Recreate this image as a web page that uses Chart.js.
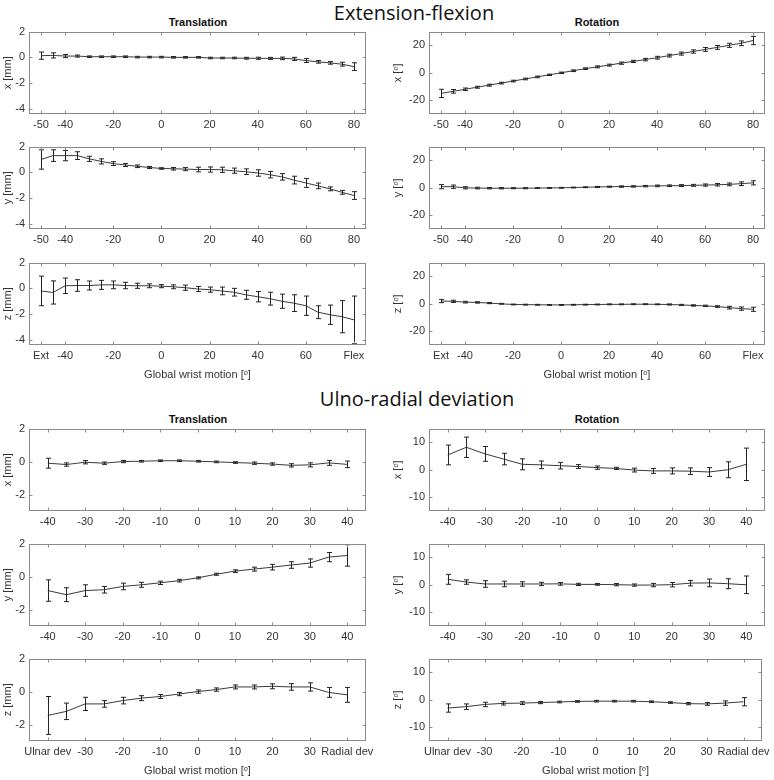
<!DOCTYPE html>
<html>
<head>
<meta charset="utf-8">
<script src="https://cdn.jsdelivr.net/npm/chart.js@4.4.0/dist/chart.umd.min.js"></script>
<style>
  body { margin: 0; background: #fff; width: 774px; height: 780px; position: relative; overflow: hidden; }
  .panel { position: absolute; }
  .main-title { position: absolute; font-family: "Open Sans", sans-serif; font-size: 20px; line-height: 22px; color: #111; white-space: nowrap; transform: translateX(-50%); }
  .sub-title { position: absolute; font-family: "Liberation Sans", Arial, sans-serif; font-weight: bold; font-size: 11px; line-height: 13px; color: #111; white-space: nowrap; transform: translateX(-50%); }
</style>
</head>
<body>
<div class="main-title" style="left:414px; top:2px;">Extension-flexion</div>
<div class="sub-title" style="left:198px; top:16px;">Translation</div>
<div class="sub-title" style="left:597px; top:16px;">Rotation</div>
<div class="main-title" style="left:417px; top:388px;">Ulno-radial deviation</div>
<div class="sub-title" style="left:198px; top:413px;">Translation</div>
<div class="sub-title" style="left:597px; top:413px;">Rotation</div>
<div id="panels"></div>
<script>
// --- Data: extension-flexion ---
const efAngles = [-50,-45,-40,-35,-30,-25,-20,-15,-10,-5,0,5,10,15,20,25,30,35,40,45,50,55,60,65,70,75,80];
const efTransX    = [0.13,0.15,0.1,0.1,0.05,0.05,0.05,0.05,0.02,0.02,0.02,0,0,0,-0.05,-0.05,-0.05,-0.07,-0.07,-0.08,-0.08,-0.12,-0.25,-0.35,-0.43,-0.53,-0.72];
const efTransXErr = [0.28,0.2,0.12,0.08,0.06,0.06,0.06,0.06,0.06,0.06,0.06,0.06,0.06,0.06,0.06,0.06,0.06,0.07,0.08,0.08,0.1,0.12,0.15,0.1,0.1,0.15,0.3];
const efTransY    = [1.0,1.3,1.3,1.3,1.05,0.85,0.68,0.57,0.47,0.38,0.3,0.28,0.25,0.22,0.22,0.2,0.13,0.05,-0.05,-0.18,-0.35,-0.6,-0.82,-1.05,-1.28,-1.55,-1.8];
const efTransYErr = [0.75,0.45,0.4,0.3,0.2,0.2,0.15,0.12,0.1,0.08,0.06,0.1,0.12,0.18,0.2,0.2,0.2,0.22,0.25,0.25,0.25,0.3,0.35,0.22,0.15,0.15,0.3];
const efTransZ    = [-0.2,-0.32,0.2,0.22,0.22,0.27,0.27,0.22,0.2,0.2,0.17,0.12,0.05,-0.05,-0.1,-0.2,-0.3,-0.5,-0.65,-0.8,-1.0,-1.15,-1.35,-1.85,-2.05,-2.2,-2.45];
const efTransZErr = [1.15,0.9,0.6,0.45,0.35,0.35,0.3,0.25,0.2,0.15,0.12,0.15,0.2,0.2,0.2,0.3,0.3,0.35,0.4,0.5,0.55,0.65,0.75,0.5,0.75,1.25,1.85];
const efRotX      = [-15,-13.5,-12,-10.5,-9,-7.5,-6,-4.5,-3,-1.5,0,1.5,3,4.3,5.6,7,8.3,9.6,11,12.5,14,15.5,17,18.5,20,21.5,23.5];
const efRotXErr   = [3,1.3,0.9,0.7,0.7,0.6,0.6,0.6,0.6,0.5,0.5,0.6,0.6,0.7,0.7,0.8,0.8,0.9,1,1,1.1,1.2,1.4,1.4,1.5,1.7,3];
const efRotY      = [0.8,0.8,0,-0.2,-0.3,-0.3,-0.3,-0.3,-0.2,-0.1,0,0.2,0.4,0.6,0.8,0.9,1.0,1.2,1.4,1.5,1.6,1.8,2.0,2.2,2.5,3.0,3.6];
const efRotYErr   = [1.5,1.2,0.8,0.6,0.5,0.5,0.4,0.4,0.3,0.3,0.3,0.3,0.3,0.4,0.4,0.5,0.5,0.5,0.6,0.6,0.7,0.7,0.8,0.9,1.0,1.3,1.5];
const efRotZ      = [2,1.8,1.2,1,0.5,0,-0.5,-0.6,-0.7,-0.8,-0.8,-0.7,-0.6,-0.5,-0.4,-0.4,-0.3,-0.3,-0.4,-0.5,-0.8,-1.2,-1.5,-2,-2.8,-3.5,-4];
const efRotZErr   = [1.2,0.8,0.6,0.5,0.4,0.3,0.3,0.3,0.3,0.3,0.3,0.3,0.3,0.3,0.3,0.3,0.3,0.3,0.3,0.4,0.4,0.5,0.5,0.6,1,1.2,1.5];

// --- Data: ulno-radial deviation ---
const urAngles = [-40,-35,-30,-25,-20,-15,-10,-5,0,5,10,15,20,25,30,35,40];
const urTransX    = [-0.1,-0.18,-0.04,-0.1,0,0.02,0.05,0.05,0.02,-0.02,-0.06,-0.1,-0.15,-0.23,-0.2,-0.08,-0.17];
const urTransXErr = [0.3,0.1,0.1,0.07,0.07,0.05,0.05,0.05,0.05,0.05,0.05,0.07,0.07,0.1,0.12,0.15,0.2];
const urTransY    = [-0.85,-1.1,-0.85,-0.8,-0.6,-0.5,-0.38,-0.25,-0.08,0.14,0.33,0.45,0.57,0.7,0.82,1.18,1.28];
const urTransYErr = [0.65,0.42,0.35,0.2,0.2,0.15,0.1,0.08,0.06,0.06,0.08,0.12,0.17,0.2,0.25,0.28,0.65];
const urTransZ    = [-1.45,-1.2,-0.75,-0.75,-0.55,-0.4,-0.3,-0.15,0,0.12,0.28,0.28,0.32,0.28,0.28,-0.05,-0.2];
const urTransZErr = [1.15,0.5,0.4,0.2,0.2,0.15,0.12,0.1,0.1,0.1,0.12,0.12,0.15,0.2,0.25,0.3,0.45];
const urRotX      = [5.4,8.2,5.8,3.9,2.0,1.8,1.5,1.2,0.8,0.5,-0.1,-0.4,-0.4,-0.5,-0.8,0,2];
const urRotXErr   = [3.6,3.7,2.7,2.1,2,1.4,1.2,0.7,0.6,0.4,0.7,0.9,1.1,1.2,1.6,2.9,5.9];
const urRotY      = [2,1,0.3,0.3,0.3,0.3,0.35,0.15,0.15,0.05,-0.1,-0.1,0.05,0.6,0.7,0.4,0];
const urRotYErr   = [1.8,0.8,1.2,1,0.8,0.6,0.5,0.4,0.3,0.4,0.4,0.6,0.8,1,1.4,1.8,3.2];
const urRotZ      = [-3,-2.5,-1.7,-1.3,-1.2,-1.0,-0.8,-0.6,-0.5,-0.5,-0.5,-0.7,-1.0,-1.4,-1.5,-1.2,-0.7];
const urRotZErr   = [1.5,1,0.8,0.6,0.5,0.4,0.3,0.3,0.3,0.3,0.3,0.3,0.3,0.4,0.5,0.8,1.5];

// --- Ticks ---
const efTicks = [-50,-40,-20,0,20,40,60,80];
const efTickLabels = ['-50','-40','-20','0','20','40','60','80'];
const efTickLabelsEnds = ['Ext','-40','-20','0','20','40','60','Flex'];
const urTicks = [-40,-30,-20,-10,0,10,20,30,40];
const urTickLabels = ['-40','-30','-20','-10','0','10','20','30','40'];
const urTickLabelsEnds = ['Ulnar dev','-30','-20','-10','0','10','20','30','Radial dev'];
const efTransTicks = [-4,-2,0,2];
const efRotTicks = [-20,0,20];
const urTransTicks = [-2,0,2];
const urRotTicks = [-10,0,10];

const FONT = '"Liberation Sans", Arial, sans-serif';
const TEXT = '#333';
const AXIS = '#8a8a8a';

// box, inward ticks on all sides, error bars
const matlabAxes = {
  id: 'matlabAxes',
  afterDatasetsDraw(chart) {
    const {ctx, chartArea: a, scales: {x, y}} = chart;
    const ds = chart.data.datasets[0];
    ctx.save();
    ctx.beginPath();
    ctx.rect(a.left, a.top, a.right - a.left, a.bottom - a.top);
    ctx.clip();
    ctx.strokeStyle = '#222';
    ctx.lineWidth = 1;
    ds.data.forEach((p, i) => {
      const px = Math.round(x.getPixelForValue(p.x)) + 0.5;
      const e = ds.errors[i];
      const y1 = y.getPixelForValue(p.y + e);
      const y2 = y.getPixelForValue(p.y - e);
      ctx.beginPath();
      ctx.moveTo(px, y1); ctx.lineTo(px, y2);
      ctx.moveTo(px - 2.5, y1); ctx.lineTo(px + 2.5, y1);
      ctx.moveTo(px - 2.5, y2); ctx.lineTo(px + 2.5, y2);
      ctx.stroke();
    });
    ctx.restore();

    ctx.save();
    ctx.strokeStyle = AXIS;
    ctx.lineWidth = 1;
    const L = Math.round(a.left) + 0.5, R = Math.round(a.right) - 0.5;
    const T = Math.round(a.top) + 0.5, B = Math.round(a.bottom) - 0.5;
    ctx.strokeRect(L, T, R - L, B - T);
    ctx.beginPath();
    x.ticks.forEach(t => {
      const px = Math.round(x.getPixelForValue(t.value)) + 0.5;
      ctx.moveTo(px, B); ctx.lineTo(px, B - 3);
      ctx.moveTo(px, T); ctx.lineTo(px, T + 3);
    });
    y.ticks.forEach(t => {
      const py = Math.round(y.getPixelForValue(t.value)) + 0.5;
      ctx.moveTo(L, py); ctx.lineTo(L + 3, py);
      ctx.moveTo(R, py); ctx.lineTo(R - 3, py);
    });
    ctx.stroke();
    ctx.restore();
  }
};

function makePanel(cfg) {
  const boxH = 83, padT = 10;
  const xH = cfg.xTitle ? 44 : 22;
  const wrap = document.createElement('div');
  wrap.className = 'panel';
  wrap.style.left = cfg.left + 'px';
  wrap.style.top = (cfg.top - padT) + 'px';
  const canvas = document.createElement('canvas');
  canvas.width = cfg.width;
  canvas.height = padT + boxH + xH;
  wrap.appendChild(canvas);
  document.getElementById('panels').appendChild(wrap);

  new Chart(canvas.getContext('2d'), {
    type: 'line',
    data: {
      datasets: [{
        data: cfg.xs.map((v, i) => ({x: v, y: cfg.ys[i]})),
        errors: cfg.errs,
        borderColor: '#3a3a3a',
        borderWidth: 1,
        pointRadius: 0,
        tension: 0,
        fill: false
      }]
    },
    options: {
      responsive: false,
      animation: false,
      layout: { padding: { top: padT, right: cfg.padR, bottom: 0, left: 0 } },
      plugins: { legend: { display: false }, tooltip: { enabled: false } },
      scales: {
        x: {
          type: 'linear',
          min: cfg.xMin, max: cfg.xMax,
          grid: { display: false, drawTicks: false },
          border: { display: false },
          ticks: {
            padding: 4, color: TEXT, maxRotation: 0, autoSkip: false,
            font: { family: FONT, size: 11 },
            callback: v => cfg.xLabels[cfg.xTicks.indexOf(v)]
          },
          afterBuildTicks: s => { s.ticks = cfg.xTicks.map(v => ({value: v})); },
          afterFit: s => { s.height = xH; },
          title: {
            display: !!cfg.xTitle, text: cfg.xTitle || '', color: TEXT,
            font: { family: FONT, size: 11 }, padding: { top: 0, bottom: 7 }
          }
        },
        y: {
          type: 'linear',
          min: cfg.yMin, max: cfg.yMax,
          grid: { display: false, drawTicks: false },
          border: { display: false },
          ticks: { padding: 4, color: TEXT, font: { family: FONT, size: 11 } },
          afterBuildTicks: s => { s.ticks = cfg.yTicks.map(v => ({value: v})); },
          afterFit: s => { s.width = cfg.yW; },
          title: {
            display: true, text: cfg.yTitle, color: TEXT,
            font: { family: FONT, size: 11 }, padding: { top: cfg.yTitlePad, bottom: 0 }
          }
        }
      }
    },
    plugins: [matlabAxes]
  });
}

const leftCol = { left: 0, width: 385, padR: 19, yW: 29, yTitlePad: 1.5 };
const rightCol = { left: 385, width: 389, padR: 9, yW: 44, yTitlePad: 6.5 };
const efRows = [31, 146, 262];
const urRows = [428, 543, 658];
const DEG = 'ᵒ';

const panels = [
  // extension-flexion, translation
  { ...leftCol, top: efRows[0], xs: efAngles, ys: efTransX, errs: efTransXErr, yTitle: 'x [mm]', yMin: -4.4, yMax: 2, yTicks: efTransTicks, xMin: -55, xMax: 85, xTicks: efTicks, xLabels: efTickLabels },
  { ...leftCol, top: efRows[1], xs: efAngles, ys: efTransY, errs: efTransYErr, yTitle: 'y [mm]', yMin: -4.4, yMax: 2, yTicks: efTransTicks, xMin: -55, xMax: 85, xTicks: efTicks, xLabels: efTickLabels },
  { ...leftCol, top: efRows[2], xs: efAngles, ys: efTransZ, errs: efTransZErr, yTitle: 'z [mm]', yMin: -4.4, yMax: 2, yTicks: efTransTicks, xMin: -55, xMax: 85, xTicks: efTicks, xLabels: efTickLabelsEnds, xTitle: 'Global wrist motion [' + DEG + ']' },
  // extension-flexion, rotation
  { ...rightCol, top: efRows[0], xs: efAngles, ys: efRotX, errs: efRotXErr, yTitle: 'x [' + DEG + ']', yMin: -30, yMax: 30, yTicks: efRotTicks, xMin: -55, xMax: 85, xTicks: efTicks, xLabels: efTickLabels },
  { ...rightCol, top: efRows[1], xs: efAngles, ys: efRotY, errs: efRotYErr, yTitle: 'y [' + DEG + ']', yMin: -30, yMax: 30, yTicks: efRotTicks, xMin: -55, xMax: 85, xTicks: efTicks, xLabels: efTickLabels },
  { ...rightCol, top: efRows[2], xs: efAngles, ys: efRotZ, errs: efRotZErr, yTitle: 'z [' + DEG + ']', yMin: -30, yMax: 30, yTicks: efRotTicks, xMin: -55, xMax: 85, xTicks: efTicks, xLabels: efTickLabelsEnds, xTitle: 'Global wrist motion [' + DEG + ']' },
  // ulno-radial, translation
  { ...leftCol, top: urRows[0], xs: urAngles, ys: urTransX, errs: urTransXErr, yTitle: 'x [mm]', yMin: -3, yMax: 2, yTicks: urTransTicks, xMin: -45, xMax: 45, xTicks: urTicks, xLabels: urTickLabels },
  { ...leftCol, top: urRows[1], xs: urAngles, ys: urTransY, errs: urTransYErr, yTitle: 'y [mm]', yMin: -3, yMax: 2, yTicks: urTransTicks, xMin: -45, xMax: 45, xTicks: urTicks, xLabels: urTickLabels },
  { ...leftCol, top: urRows[2], xs: urAngles, ys: urTransZ, errs: urTransZErr, yTitle: 'z [mm]', yMin: -3, yMax: 2, yTicks: urTransTicks, xMin: -45, xMax: 45, xTicks: urTicks, xLabels: urTickLabelsEnds, xTitle: 'Global wrist motion [' + DEG + ']' },
  // ulno-radial, rotation
  { ...rightCol, top: urRows[0], xs: urAngles, ys: urRotX, errs: urRotXErr, yTitle: 'x [' + DEG + ']', yMin: -15, yMax: 15, yTicks: urRotTicks, xMin: -45, xMax: 45, xTicks: urTicks, xLabels: urTickLabels },
  { ...rightCol, top: urRows[1], xs: urAngles, ys: urRotY, errs: urRotYErr, yTitle: 'y [' + DEG + ']', yMin: -15, yMax: 15, yTicks: urRotTicks, xMin: -45, xMax: 45, xTicks: urTicks, xLabels: urTickLabels },
  { ...rightCol, top: urRows[2], xs: urAngles, ys: urRotZ, errs: urRotZErr, yTitle: 'z [' + DEG + ']', yMin: -15, yMax: 15, yTicks: urRotTicks, xMin: -45, xMax: 45, xTicks: urTicks, xLabels: urTickLabelsEnds, xTitle: 'Global wrist motion [' + DEG + ']' }
];

panels.forEach(makePanel);
</script>
</body>
</html>
